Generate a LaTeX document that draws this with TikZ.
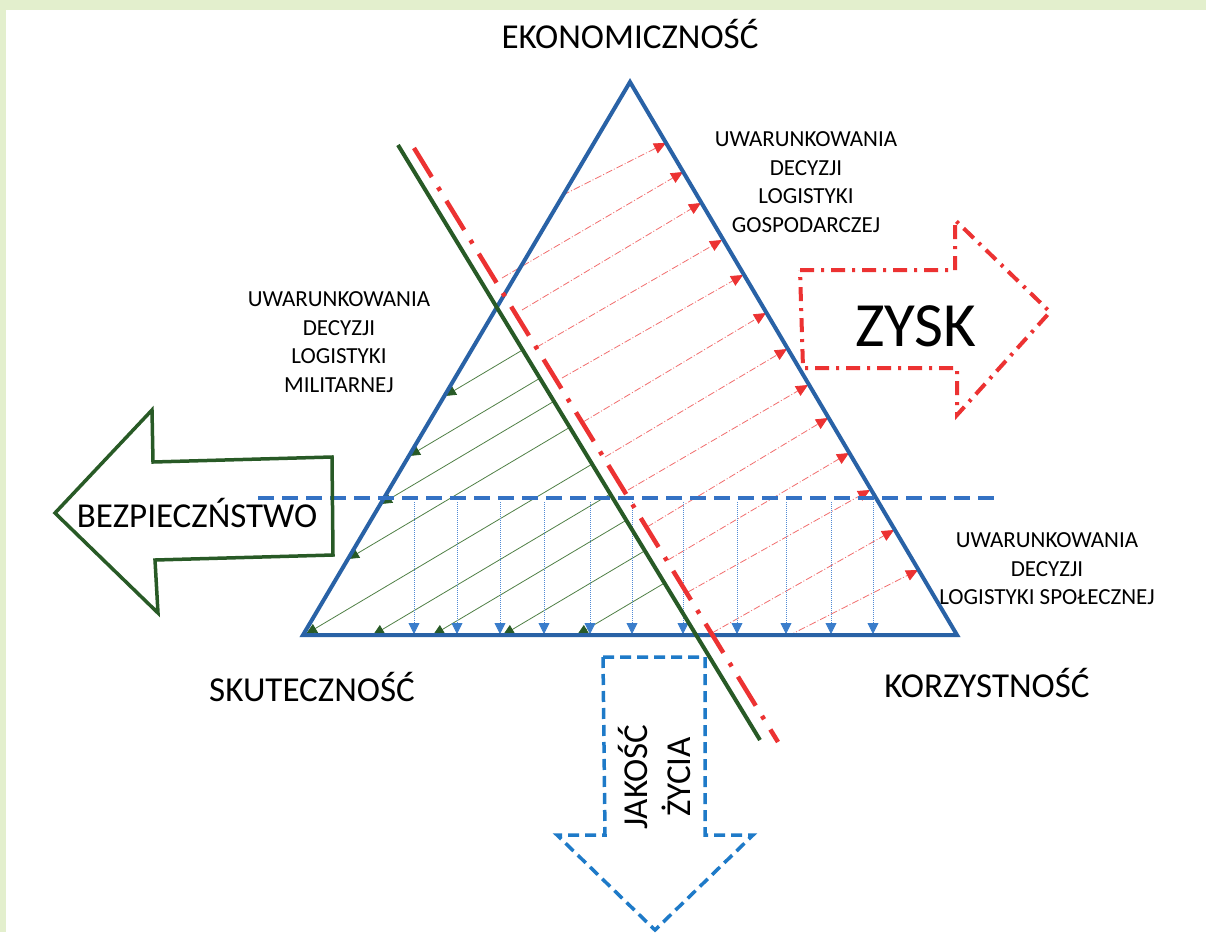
\documentclass[tikz,border=0pt]{standalone}
\usepackage{fontspec}
\setmainfont{Carlito}
\usetikzlibrary{arrows.meta}
\definecolor{triblue}{RGB}{41,98,166}
\definecolor{dashblue}{RGB}{52,114,196}
\definecolor{qblue}{RGB}{30,122,200}
\definecolor{vblue}{RGB}{80,138,212}
\definecolor{vhead}{RGB}{58,125,203}
\definecolor{dgreen}{RGB}{40,90,38}
\definecolor{lgreen}{RGB}{80,128,70}
\definecolor{myred}{RGB}{236,50,50}
\definecolor{lred}{RGB}{242,110,110}
\definecolor{bgband}{RGB}{227,239,205}
\tikzset{
  tri/.style={draw=triblue, line width=4pt, line join=miter},
  redthin/.style={draw=lred, line width=0.8pt, dash pattern=on 7pt off 2pt on 1pt off 2pt,
    -{Triangle[length=12pt,width=11pt,color=myred]}},
  greenthin/.style={draw=lgreen, line width=0.8pt,
    -{Triangle[length=11pt,width=10pt,color=dgreen]}},
  bluethin/.style={draw=vblue, line width=0.8pt, dash pattern=on 1pt off 1pt,
    -{Triangle[length=11pt,width=11pt,color=vhead]}},
  biglabel/.style={font=\fontsize{35}{42}\selectfont, inner sep=0pt},
  midlabel/.style={font=\fontsize{23}{28.5}\selectfont, align=center, inner sep=0pt},
}
\begin{document}
\begin{tikzpicture}[x=1pt,y=-1pt]
\useasboundingbox (0,0) rectangle (1206,932);
\fill[white] (0,0) rectangle (1206,932);
\fill[bgband] (0,0) rectangle (1206,10);
\fill[bgband] (0,0) rectangle (6,932);

% triangle
\coordinate (A) at (630,82);
\coordinate (B) at (303,635);
\coordinate (C) at (957,635);

% green thin arrows
\foreach \i/\sx/\sy/\ex/\ey in {
  1/522.6/349.9/445/396, 2/539.9/378.2/409/456, 3/553.9/401.3/381/504,
  4/569.8/427.3/348/559, 5/592.1/464.1/306/634, 6/610.3/494.0/373/635,
  7/626.3/520.2/433/635, 8/644.8/550.8/503/635, 9/664.5/583.0/577/635}{
  \coordinate (gs\i) at (\sx,\sy);
  \coordinate (ge\i) at (\ex,\ey);
  \draw[greenthin] (gs\i) -- (ge\i);
}

% red thin arrows
\foreach \i/\sx/\sy/\ex/\ey in {
  1/563/195/666/143, 2/502/278/683/172, 3/522/310/701/203,
  4/537/347/722/240, 5/562/378/743/275, 6/583/422/766/313,
  7/605/457/787/349, 8/628/490/808/385, 9/647/527/828/418,
  10/668/560/849/453, 11/688/592/870/490, 12/712/633/894/530,
  13/788/636/918/570}{
  \coordinate (rs\i) at (\sx,\sy);
  \coordinate (re\i) at (\ex,\ey);
  \draw[redthin] (rs\i) -- (re\i);
}

% blue dotted vertical arrows
\foreach \x [count=\i] in {414,457,500,544,590,632,683,737,786,831,873}{
  \coordinate (bs\i) at (\x,502);
  \coordinate (be\i) at (\x,634);
  \draw[bluethin] (bs\i) -- (be\i);
}

\draw[tri] (A) -- (B) -- (C) -- cycle;

% blue dashed horizontal line
\coordinate (h1) at (258,498);
\coordinate (h2) at (1000,498);
\draw[dashblue, line width=3.5pt, dash pattern=on 16pt off 8pt] (h1) -- (h2);

% green and red long lines
\coordinate (g1) at (398,145);
\coordinate (g2) at (760,740);
\draw[dgreen, line width=4pt] (g1) -- (g2);
\coordinate (r1) at (414,148);
\coordinate (r2) at (778,742);
\draw[myred, line width=4.5pt, dash pattern=on 34pt off 12pt on 4pt off 12pt] (r1) -- (r2);

% ZYSK arrow
\draw[myred, line width=4pt, dash pattern=on 14pt off 7pt on 3pt off 7pt, line join=miter]
  (800,270) -- (955,270) -- (955,220) -- (1050,312) -- (957,415) -- (957,368) -- (803,368) -- cycle;
\node[font=\fontsize{63}{72}\selectfont, inner sep=0pt, anchor=base] (zysk) at (916,346) {ZYSK};

% BEZPIECZENSTWO arrow
\draw[dgreen, line width=3.5pt, line join=miter]
  (55,513) -- (152,410) -- (153,462) -- (332,457) -- (333,555) -- (155,560) -- (158,613) -- cycle;
\node[biglabel, anchor=base] (bez) at (197,527) {BEZPIECZŃSTWO};

% JAKOSC ZYCIA arrow
\draw[qblue, line width=3.5pt, dash pattern=on 11pt off 6pt, line join=miter]
  (603,657) -- (705,657) -- (705,835) -- (753,835) -- (655,930) -- (557,835) -- (605,835) -- cycle;
\node[font=\fontsize{35}{43}\selectfont, align=center, inner sep=0pt, rotate=90] (jak) at (654,777) {JAKOŚĆ\\ŻYCIA};

% corner labels
\node[biglabel, anchor=base] (eko) at (630,48) {EKONOMICZNOŚĆ};
\node[biglabel, anchor=base] (sku) at (312,701) {SKUTECZNOŚĆ};
\node[biglabel, anchor=base] (kor) at (987,697) {KORZYSTNOŚĆ};

% condition labels
\node[midlabel] (gosp) at (806,182) {UWARUNKOWANIA\\DECYZJI\\LOGISTYKI\\GOSPODARCZEJ};
\node[midlabel] (mil) at (339,342) {UWARUNKOWANIA\\DECYZJI\\LOGISTYKI\\MILITARNEJ};
\node[midlabel] (spol) at (1047,569) {UWARUNKOWANIA\\DECYZJI\\LOGISTYKI SPOŁECZNEJ};
\end{tikzpicture}
\end{document}
